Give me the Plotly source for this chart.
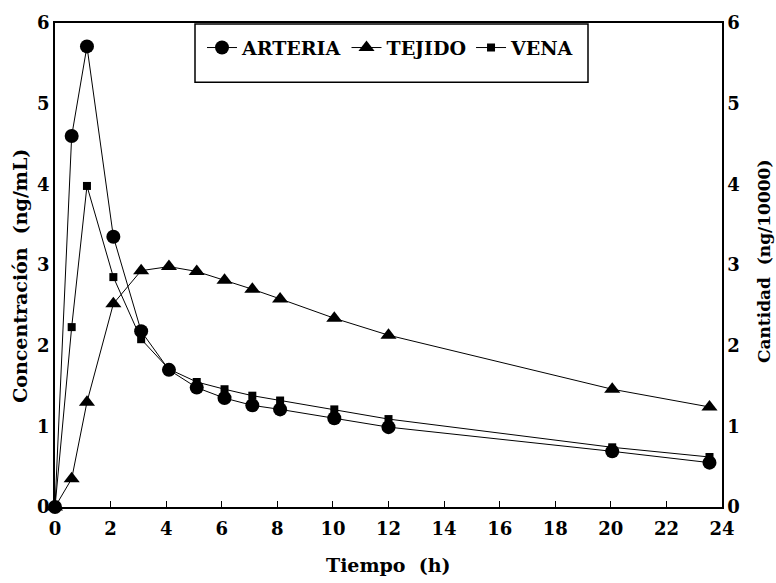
import plotly.graph_objects as go

tiempo = [0, 0.6, 1.15, 2.1, 3.1, 4.1, 5.1, 6.1, 7.1, 8.1, 10.05, 12, 20.05, 23.55]
arteria = [0, 4.60, 5.71, 3.35, 2.18, 1.70, 1.48, 1.35, 1.26, 1.21, 1.10, 0.99, 0.69, 0.55]
vena = [0, 2.23, 3.98, 2.85, 2.08, 1.71, 1.55, 1.46, 1.38, 1.32, 1.21, 1.09, 0.74, 0.62]
tejido = [0, 0.35, 1.30, 2.52, 2.93, 2.98, 2.92, 2.81, 2.70, 2.58, 2.34, 2.13, 1.46, 1.24]

x_ticks = list(range(0, 25, 2))
y_ticks = list(range(0, 7))

FONT = "DejaVu Serif"
fig = go.Figure()
fig.add_trace(go.Scatter(x=tiempo, y=arteria, name="<b>ARTERIA</b>", mode="lines+markers",
                         line=dict(color="black", width=1),
                         marker=dict(symbol="circle", size=14, color="black"),
                         cliponaxis=False))
fig.add_trace(go.Scatter(x=tiempo, y=tejido, name="<b>TEJIDO</b>", mode="lines+markers",
                         line=dict(color="black", width=1),
                         marker=dict(symbol="triangle-up", size=14, color="black"),
                         yaxis="y2", cliponaxis=False))
fig.add_trace(go.Scatter(x=tiempo, y=vena, name="<b>VENA</b>", mode="lines+markers",
                         line=dict(color="black", width=1),
                         marker=dict(symbol="square", size=8, color="black"),
                         cliponaxis=False))

tickfont = dict(family=FONT, size=18, color="black")

fig.update_layout(
    width=776, height=583,
    margin=dict(l=55, r=54, t=17, b=76),
    paper_bgcolor="white", plot_bgcolor="white",
    font=dict(family=FONT, color="black"),
    xaxis=dict(range=[0, 24], tickvals=x_ticks, ticktext=["<b>%d</b>" % v for v in x_ticks],
               ticks="inside", ticklen=6, tickcolor="black", showgrid=False, zeroline=False,
               showline=True, linecolor="black", linewidth=1.5, mirror=True,
               tickfont=tickfont, ticklabelstandoff=5),
    yaxis=dict(range=[0, 6], tickvals=y_ticks, ticktext=["<b>%d</b>" % v for v in y_ticks],
               ticks="", showgrid=False, zeroline=False,
               showline=True, linecolor="black", linewidth=1.5,
               tickfont=tickfont),
    yaxis2=dict(range=[0, 6], tickvals=y_ticks, ticktext=["<b>%d</b>" % v for v in y_ticks],
                overlaying="y", side="right", ticks="", showgrid=False, zeroline=False,
                showline=True, linecolor="black", linewidth=1.5,
                tickfont=tickfont),
    legend=dict(orientation="h", x=0.2204, y=0.949, xanchor="left", yanchor="middle",
                bgcolor="rgba(0,0,0,0)", borderwidth=0,
                font=dict(family=FONT, size=19, color="black"),
                itemwidth=30, tracegroupgap=0),
    showlegend=True,
    shapes=[dict(type="rect", xref="paper", yref="paper",
                 x0=(195 - 55) / 667, x1=(588 - 55) / 667,
                 y0=(507 - 77) / 490, y1=(507 - 18) / 490,
                 line=dict(color="black", width=1.5), fillcolor="rgba(0,0,0,0)")],
    annotations=[
        dict(text="<b>Tiempo  (h)</b>", xref="paper", yref="paper", x=0.5, y=-(566 - 507) / 490,
             xanchor="center", yanchor="middle", showarrow=False,
             font=dict(family=FONT, size=19, color="black")),
        dict(text="<b>Concentración  (ng/mL)</b>", xref="paper", yref="paper", x=0, xshift=-35,
             y=(507 - 273) / 490, xanchor="center", yanchor="middle", textangle=-90,
             showarrow=False, font=dict(family=FONT, size=19, color="black")),
        dict(text="<b>Cantidad  (ng/10000)</b>", xref="paper", yref="paper", x=1, xshift=42,
             y=(507 - 258) / 490, xanchor="center", yanchor="middle", textangle=-90,
             showarrow=False, font=dict(family=FONT, size=17, color="black")),
    ],
)

fig.write_html("out.html")
